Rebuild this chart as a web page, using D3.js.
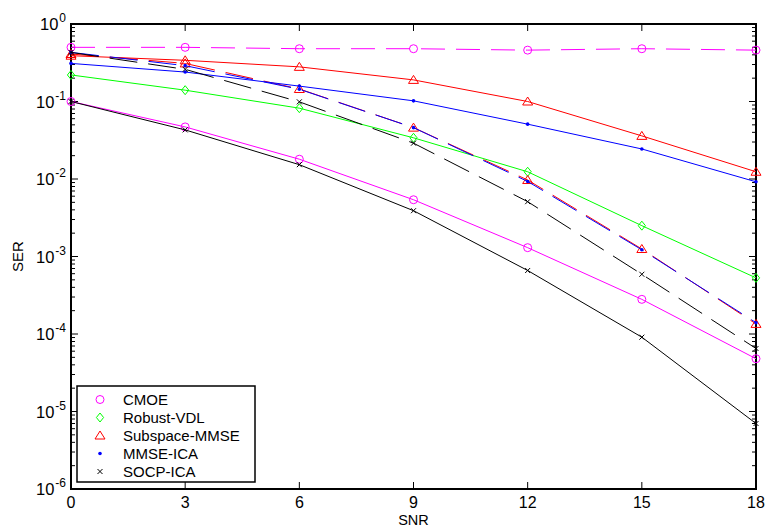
<!DOCTYPE html>
<html>
<head>
<meta charset="utf-8">
<script src="https://cdn.jsdelivr.net/npm/d3@7"></script>
<style>
  body { margin: 0; background: #fff; }
  text { font-family: "Liberation Sans", Arial, Helvetica, sans-serif; fill: #000; }
</style>
</head>
<body>
<div id="chart"></div>
<script>
// values
const snr = [0, 3, 6, 9, 12, 15, 18];
const xTicks = [0, 3, 6, 9, 12, 15, 18];
const yExponents = [0, -1, -2, -3, -4, -5, -6];

const cmoeDashed = [0.50, 0.50, 0.48, 0.48, 0.46, 0.48, 0.46];
const cmoeSolid = [0.10, 0.047, 0.018, 0.0054, 0.0013, 2.8e-4, 4.8e-5];
const robustVdl = [0.22, 0.14, 0.082, 0.034, 0.0124, 0.0025, 5.3e-4];
const subspaceSolid = [0.39, 0.34, 0.28, 0.19, 0.10, 0.036, 0.0124];
const subspaceDashed = [0.41, 0.31, 0.145, 0.046, 0.0097, 0.00125, 1.35e-4];
const mmseSolid = [0.31, 0.24, 0.158, 0.102, 0.051, 0.0244, 0.0092];
const mmseDashed = [0.43, 0.29, 0.144, 0.046, 0.0093, 0.00122, 1.4e-4];
const socpSolid = [0.10, 0.043, 0.0153, 0.0039, 6.6e-4, 9.1e-5, 7.0e-6];
const socpDashed = [0.43, 0.26, 0.099, 0.029, 0.0051, 5.9e-4, 6.5e-5];

const legendNames = ['CMOE', 'Robust-VDL', 'Subspace-MMSE', 'MMSE-ICA', 'SOCP-ICA'];

const svg = d3.select('#chart').append('svg').attr('width', 766).attr('height', 531);
const margins = { top: 24, right: 10, left: 71, bottom: 42 };
const width = 766, height = 531;

const x = d3.scaleLinear().domain([0, 18]).range([margins.left, width - margins.right]);
const y = d3.scaleLog().domain([1e-6, 1]).range([height - margins.bottom, margins.top]);

const markers = {
  circle: g => g.append('circle').attr('r', 4).attr('fill', 'none'),
  diamond: g => g.append('path').attr('d', 'M0,-4.5L3.6,0L0,4.5L-3.6,0Z').attr('fill', 'none'),
  triangle: g => g.append('path').attr('d', 'M0,-4.5L5,3.5L-5,3.5Z').attr('fill', 'none'),
  dot: g => g.append('circle').attr('r', 1.8).attr('stroke', 'none'),
  cross: g => g.append('path').attr('d', 'M-2.5,-2.5L2.5,2.5M-2.5,2.5L2.5,-2.5').attr('fill', 'none')
};

const series = [
  { vals: cmoeDashed, color: '#ff00ff', dash: '24,11', marker: 'circle' },
  { vals: cmoeSolid, color: '#ff00ff', dash: null, marker: 'circle' },
  { vals: robustVdl, color: '#00ff00', dash: null, marker: 'diamond' },
  { vals: subspaceSolid, color: '#ff0000', dash: null, marker: 'triangle' },
  { vals: subspaceDashed, color: '#ff0000', dash: '28,11', marker: 'triangle' },
  { vals: mmseSolid, color: '#0000ff', dash: null, marker: 'dot' },
  { vals: mmseDashed, color: '#0000ff', dash: '28,11', marker: 'dot' },
  { vals: socpSolid, color: '#000000', dash: null, marker: 'cross' },
  { vals: socpDashed, color: '#000000', dash: '28,11', marker: 'cross' }
];

const x0 = x.range()[0], x1 = x.range()[1];
const yTop = y.range()[1], yBot = y.range()[0];

// ticks (inside)
const ticks = svg.append('g').attr('stroke', '#000').attr('stroke-width', 1);
xTicks.forEach(t => {
  ticks.append('line').attr('x1', x(t)).attr('x2', x(t)).attr('y1', yBot).attr('y2', yBot - 7);
  ticks.append('line').attr('x1', x(t)).attr('x2', x(t)).attr('y1', yTop).attr('y2', yTop + 7);
});
for (let e = -6; e < 0; e++) {
  for (let m = 1; m <= 9; m++) {
    const v = m * Math.pow(10, e);
    const len = m === 1 ? 7 : 4;
    ticks.append('line').attr('x1', x0).attr('x2', x0 + len).attr('y1', y(v)).attr('y2', y(v));
    ticks.append('line').attr('x1', x1).attr('x2', x1 - len).attr('y1', y(v)).attr('y2', y(v));
  }
}

// box
svg.append('rect')
  .attr('x', x0).attr('y', yTop)
  .attr('width', x1 - x0).attr('height', yBot - yTop)
  .attr('fill', 'none').attr('stroke', '#000').attr('stroke-width', 2);

// tick labels
svg.append('g').selectAll('text').data(xTicks).join('text')
  .attr('x', d => x(d)).attr('y', yBot + 19)
  .attr('text-anchor', 'middle').attr('font-size', '16px')
  .text(d => d);

yExponents.forEach(e => {
  const t = svg.append('text')
    .attr('x', 66).attr('y', y(Math.pow(10, e)) + 6)
    .attr('text-anchor', 'end').attr('font-size', '16.5px');
  t.append('tspan').text('10');
  t.append('tspan').attr('dy', -8).attr('dx', 1).attr('font-size', '12px').text(e);
});

// axis titles
svg.append('text').attr('x', (x0 + x1) / 2).attr('y', 525)
  .attr('text-anchor', 'middle').attr('font-size', '14.5px').text('SNR');
svg.append('text').attr('transform', `translate(23, ${(yTop + yBot) / 2}) rotate(-90)`)
  .attr('text-anchor', 'middle').attr('font-size', '15px').text('SER');

// lines and markers
const line = d3.line().x((d, i) => x(snr[i])).y(d => y(d));
series.forEach(s => {
  svg.append('path')
    .attr('d', line(s.vals))
    .attr('fill', 'none')
    .attr('stroke', s.color)
    .attr('stroke-width', 1)
    .attr('stroke-dasharray', s.dash);
  s.vals.forEach((v, i) => {
    const g = svg.append('g')
      .attr('transform', `translate(${x(snr[i])},${y(v)})`)
      .attr('stroke', s.color).attr('fill', s.color).attr('stroke-width', 1);
    markers[s.marker](g);
  });
});

// legend
const legend = svg.append('g');
legend.append('rect')
  .attr('x', 77).attr('y', 386).attr('width', 178).attr('height', 96)
  .attr('fill', '#fff').attr('stroke', '#000').attr('stroke-width', 1.5);
const legendMarkers = ['circle', 'diamond', 'triangle', 'dot', 'cross'];
const legendColors = ['#ff00ff', '#00ff00', '#ff0000', '#0000ff', '#000000'];
legendNames.forEach((name, i) => {
  const cy = 399.5 + i * 18;
  const g = legend.append('g').attr('transform', `translate(100,${cy})`)
    .attr('stroke', legendColors[i]).attr('fill', legendColors[i]).attr('stroke-width', 1);
  markers[legendMarkers[i]](g);
  legend.append('text').attr('x', 123).attr('y', cy + 5.5)
    .attr('font-size', '15px').text(name);
});
</script>
</body>
</html>
